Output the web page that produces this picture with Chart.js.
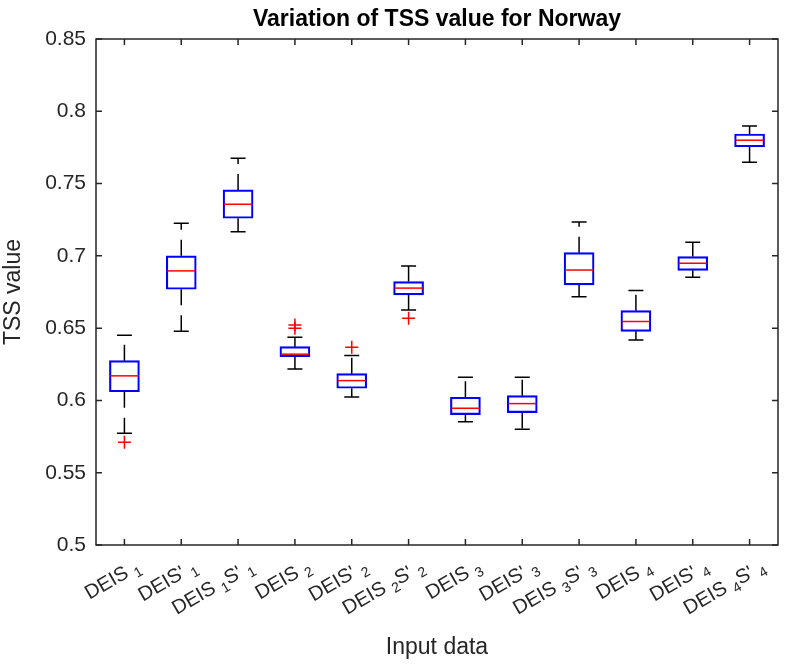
<!DOCTYPE html>
<html>
<head>
<meta charset="utf-8">
<script src="https://cdn.jsdelivr.net/npm/chart.js@4.4.1/dist/chart.umd.min.js"></script>
<style>
  html, body { margin: 0; padding: 0; background: #ffffff; }
  #wrap { width: 786px; height: 664px; }
</style>
</head>
<body>
<div id="wrap"><canvas id="tssChart" width="786" height="664"></canvas></div>
<script>
// ── TSS box statistics per input data set ------------------------------------
// tick labels use '_x' for a subscript character
const categories = [
  'DEIS _1', "DEIS' _1", "DEIS _1S' _1",
  'DEIS _2', "DEIS' _2", "DEIS _2S' _2",
  'DEIS _3', "DEIS' _3", "DEIS _3S' _3",
  'DEIS _4', "DEIS' _4", "DEIS _4S' _4"
];

const whiskerHigh = [0.6450, 0.7225, 0.7675, 0.6437, 0.6310, 0.6930, 0.6160, 0.6160, 0.7234, 0.6760, 0.7094, 0.7898];
const upperQuart  = [0.6275, 0.7000, 0.7456, 0.6372, 0.6185, 0.6822, 0.6022, 0.6033, 0.7022, 0.6621, 0.6995, 0.7843];
const medians     = [0.6170, 0.6896, 0.7357, 0.6320, 0.6137, 0.6777, 0.5946, 0.5978, 0.6902, 0.6546, 0.6949, 0.7800];
const lowerQuart  = [0.6060, 0.6769, 0.7260, 0.6303, 0.6084, 0.6730, 0.5902, 0.5916, 0.6799, 0.6478, 0.6900, 0.7755];
const whiskerLow  = [0.5773, 0.6478, 0.7167, 0.6218, 0.6024, 0.6626, 0.5853, 0.5801, 0.6718, 0.6418, 0.6852, 0.7647];

// outliers: [category index, value]
const outliers = [
  [0, 0.5710],
  [3, 0.6522], [3, 0.6499],
  [4, 0.6368],
  [5, 0.6568]
];

const yTicks = [0.5, 0.55, 0.6, 0.65, 0.7, 0.75, 0.8, 0.85];

const AXIS_GREY = '#262626';
const FONT = '"Liberation Sans", Arial, Helvetica, sans-serif';

// whiskers, caps and medians on top of the bar boxes
const whiskerPlugin = {
  id: 'whiskers',
  afterDatasetsDraw(chart) {
    const ctx = chart.ctx;
    const x = chart.scales.x, y = chart.scales.y;
    const bars = chart.getDatasetMeta(0).data;
    ctx.save();
    categories.forEach((c, i) => {
      const cx = x.getPixelForValue(i);
      const half = bars[i].width / 2;
      const capHalf = half / 2;
      const yTop = y.getPixelForValue(upperQuart[i]);
      const yBot = y.getPixelForValue(lowerQuart[i]);
      const yHi = y.getPixelForValue(whiskerHigh[i]);
      const yLo = y.getPixelForValue(whiskerLow[i]);

      ctx.strokeStyle = '#000000';
      ctx.lineWidth = 1.5;
      ctx.setLineDash([16, 10]);
      ctx.beginPath();
      ctx.moveTo(cx, yTop); ctx.lineTo(cx, yHi);
      ctx.moveTo(cx, yBot); ctx.lineTo(cx, yLo);
      ctx.stroke();

      ctx.setLineDash([]);
      ctx.beginPath();
      ctx.moveTo(cx - capHalf, yHi); ctx.lineTo(cx + capHalf, yHi);
      ctx.moveTo(cx - capHalf, yLo); ctx.lineTo(cx + capHalf, yLo);
      ctx.stroke();

      const yMed = y.getPixelForValue(medians[i]);
      ctx.strokeStyle = '#ff0000';
      ctx.beginPath();
      ctx.moveTo(cx - half + 1, yMed); ctx.lineTo(cx + half - 1, yMed);
      ctx.stroke();
    });
    ctx.restore();
  }
};

// box frame with inward ticks on every side, plus rotated x labels with subscripts
const framePlugin = {
  id: 'frame',
  afterDraw(chart) {
    const ctx = chart.ctx;
    const a = chart.chartArea;
    const x = chart.scales.x, y = chart.scales.y;
    const tl = 6;
    ctx.save();
    ctx.strokeStyle = AXIS_GREY;
    ctx.lineWidth = 1.5;
    ctx.strokeRect(a.left, a.top, a.right - a.left, a.bottom - a.top);
    ctx.beginPath();
    yTicks.forEach(v => {
      const py = y.getPixelForValue(v);
      ctx.moveTo(a.left, py); ctx.lineTo(a.left + tl, py);
      ctx.moveTo(a.right, py); ctx.lineTo(a.right - tl, py);
    });
    categories.forEach((c, i) => {
      const px = x.getPixelForValue(i);
      ctx.moveTo(px, a.bottom); ctx.lineTo(px, a.bottom - tl);
      ctx.moveTo(px, a.top); ctx.lineTo(px, a.top + tl);
    });
    ctx.stroke();

    // x tick labels, rotated 30 degrees, right end at the tick
    const mainFont = '20px ' + FONT;
    const subFont = '14px ' + FONT;
    ctx.fillStyle = AXIS_GREY;
    ctx.textBaseline = 'alphabetic';
    ctx.textAlign = 'left';
    categories.forEach((label, i) => {
      const parts = [];
      for (let k = 0; k < label.length; k++) {
        if (label[k] === '_' && k + 1 < label.length) {
          parts.push({ t: label[k + 1], sub: true });
          k++;
        } else {
          const last = parts[parts.length - 1];
          if (last && !last.sub) last.t += label[k];
          else parts.push({ t: label[k], sub: false });
        }
      }
      let total = 0;
      parts.forEach(p => {
        ctx.font = p.sub ? subFont : mainFont;
        p.w = ctx.measureText(p.t).width;
        total += p.w;
      });
      const px = x.getPixelForValue(i);
      ctx.save();
      ctx.translate(px + 9, a.bottom + 11);
      ctx.rotate(-Math.PI / 6);
      let cur = -total;
      parts.forEach(p => {
        ctx.font = p.sub ? subFont : mainFont;
        ctx.fillText(p.t, cur, p.sub ? 21 : 16);
        cur += p.w;
      });
      ctx.restore();
    });
    ctx.restore();
  }
};

function drawTssChart() {
  const canvas = document.getElementById('tssChart');
  const ctx = canvas.getContext('2d');

  new Chart(ctx, {
    type: 'bar',
    data: {
      labels: categories,
      datasets: [
        {
          data: lowerQuart.map((v, i) => [v, upperQuart[i]]),
          backgroundColor: 'rgba(0,0,0,0)',
          borderColor: '#0000ff',
          borderWidth: 1.5,
          borderSkipped: false,
          barThickness: 30,
          order: 2
        },
        {
          type: 'line',
          data: outliers.map(o => ({ x: categories[o[0]], y: o[1] })),
          showLine: false,
          pointStyle: 'cross',
          pointRadius: 6.5,
          pointBorderWidth: 1.5,
          borderColor: '#ff0000',
          backgroundColor: '#ff0000',
          order: 1
        }
      ]
    },
    options: {
      responsive: false,
      animation: false,
      layout: { padding: { left: 0, right: 6, top: 0, bottom: 0 } },
      plugins: {
        legend: { display: false },
        tooltip: { enabled: false },
        title: {
          display: true,
          text: 'Variation of TSS value for Norway',
          fullSize: false,
          color: '#000000',
          font: { family: FONT, size: 23, weight: 'bold', lineHeight: 1.2 },
          padding: { top: 6, bottom: 5.4 }
        }
      },
      scales: {
        x: {
          grid: { display: false, drawTicks: false },
          border: { display: false },
          ticks: { display: false },
          title: {
            display: true,
            text: 'Input data',
            color: AXIS_GREY,
            font: { family: FONT, size: 23, lineHeight: 1.2 },
            padding: { top: 0, bottom: 3 }
          },
          afterFit: (scale) => { scale.height = 119; }
        },
        y: {
          min: 0.5,
          max: 0.85,
          grid: { display: false, drawTicks: false },
          border: { display: false },
          afterBuildTicks: (scale) => { scale.ticks = yTicks.map(v => ({ value: v })); },
          ticks: {
            color: AXIS_GREY,
            padding: 10,
            font: { family: FONT, size: 21 },
            callback: (v) => String(+v.toFixed(2))
          },
          title: {
            display: true,
            text: 'TSS value',
            color: AXIS_GREY,
            font: { family: FONT, size: 23, lineHeight: 1.2 },
            padding: { top: 0, bottom: 0 }
          },
          afterFit: (scale) => { scale.width = 96; }
        }
      }
    },
    plugins: [whiskerPlugin, framePlugin]
  });
}

window.addEventListener('DOMContentLoaded', () => {
  drawTssChart();
});
</script>
</body>
</html>
